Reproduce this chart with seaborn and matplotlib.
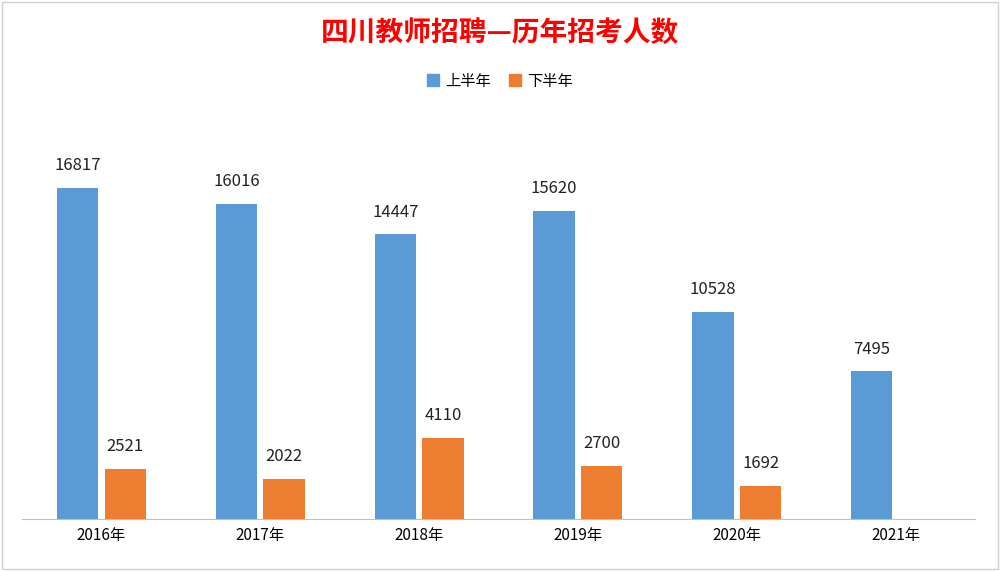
import matplotlib
matplotlib.use("Agg")
import matplotlib.pyplot as plt
import seaborn as sns
import pandas as pd
import numpy as np

years = ["2016年", "2017年", "2018年", "2019年", "2020年", "2021年"]
first_half = [16817, 16016, 14447, 15620, 10528, 7495]
second_half = [2521, 2022, 4110, 2700, 1692, np.nan]
series = ["上半年", "下半年"]
colors = ["#5B9BD5", "#ED7D31"]

df = pd.DataFrame({
    "year": years * 2,
    "value": first_half + second_half,
    "series": [series[0]] * len(years) + [series[1]] * len(years),
})

plt.rcParams["font.family"] = "Noto Sans CJK SC"
fig = plt.figure(figsize=(10, 5.71), dpi=100)
ax = fig.add_axes([0.022, 0.091, 0.953, 0.69])
sns.barplot(data=df, x="year", y="value", hue="series", palette=colors,
            width=0.6, gap=0.13, ax=ax, legend=False, saturation=1)
ax.set_ylim(0, 20000)
ax.set_xlim(-0.5, 5.5)
for c in ax.containers:
    labels = ["" if np.isnan(v) else f"{int(v)}" for v in c.datavalues]
    ax.bar_label(c, labels=labels, padding=10, fontsize=12, color="#222222")
for s in ["top", "right", "left"]:
    ax.spines[s].set_visible(False)
ax.spines["bottom"].set_color("#BFBFBF")
ax.set_yticks([])
ax.set_xlabel("")
ax.set_ylabel("")
ax.tick_params(axis="x", length=0, labelsize=11, pad=6)

fig.text(0.5, 0.942, "四川教师招聘—历年招考人数", ha="center", va="center",
         fontsize=20, fontweight="bold", color="#FF0000")
handles = [plt.Rectangle((0, 0), 1, 1, color=c) for c in colors]
fig.legend(handles, series, loc="center", bbox_to_anchor=(0.5, 0.858), ncol=2,
           frameon=False, fontsize=11, handlelength=0.8, handleheight=0.8,
           columnspacing=1.2, handletextpad=0.4)
fig.patches.append(plt.Rectangle((0.002, 0.003), 0.996, 0.994, transform=fig.transFigure,
                                 fill=False, edgecolor="#D0D0D0", lw=1))
fig.savefig("out.png", dpi=100)
